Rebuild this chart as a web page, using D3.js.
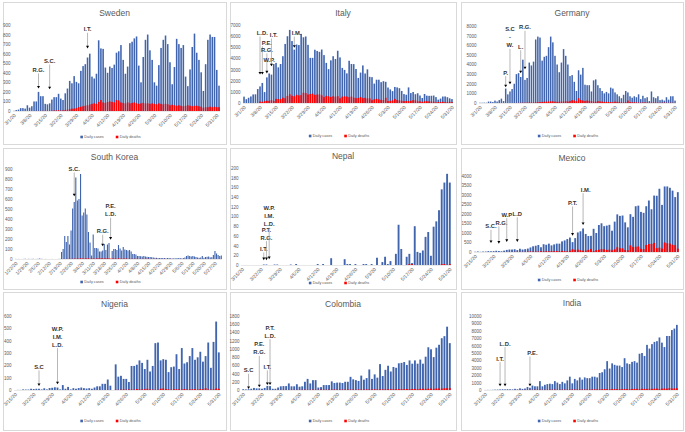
<!DOCTYPE html>
<html>
<head>
<meta charset="utf-8">
<script src="https://cdn.jsdelivr.net/npm/d3@7"></script>
<style>
body { margin: 0; background: #fff; }
text { font-family: "Liberation Sans", Arial, sans-serif; }
</style>
</head>
<body>
<script>
// ---- tick labels ----
const ticksMar1 = ['3/1/20','3/8/20','3/15/20','3/22/20','3/29/20','4/5/20','4/12/20','4/19/20','4/26/20','5/3/20','5/10/20','5/17/20','5/24/20','5/31/20'];
const ticksKorea = ['1/22/20','1/29/20','2/5/20','2/12/20','2/19/20','2/26/20','3/4/20','3/11/20','3/18/20','3/25/20','4/1/20','4/8/20','4/15/20','4/22/20','4/29/20','5/6/20','5/13/20','5/20/20','5/27/20'];
const ticksMar15 = ['3/15/20','3/22/20','3/29/20','4/5/20','4/12/20','4/19/20','4/26/20','5/3/20','5/10/20','5/17/20','5/24/20','5/31/20'];

const y900 = [0,100,200,300,400,500,600,700,800,900];
const y7000 = [0,1000,2000,3000,4000,5000,6000,7000];
const y8000 = [0,1000,2000,3000,4000,5000,6000,7000,8000];
const y200 = [0,20,40,60,80,100,120,140,160,180,200];
const y4000 = [0,500,1000,1500,2000,2500,3000,3500,4000];
const y600 = [0,100,200,300,400,500,600];
const y1800 = [0,200,400,600,800,1000,1200,1400,1600,1800];
const y10000 = [0,1000,2000,3000,4000,5000,6000,7000,8000,9000,10000];

// ---- series (daily) ----
const swedenCases = [2,10,15,30,30,25,60,35,50,100, 100,200,155,155,75,70,80,120,145,145,
  180,130,115,185,235,315,290,365,305,290,420, 470,490,560,600,360,340,390,740,655,650,
  455,400,465,450,485,610,625,690,535,390, 465,710,725,760,780,475,300,565,745,800,
  635,535,300,265,480,660,745,790,700,510, 280,460,755,700,660,690,360,260,435,670,
  810,610,535,405,210,490,745,800,775,775,430, 265];
const swedenDeaths = [0,0,0,0,0,0,0,0,0,0, 1,1,0,2,2,3,1,3,5,5,
  8,3,6,10,15,20,25,25,30,40,45, 50,55,60,70,75,80,75,95,115,90,
  85,95,100,95,90,115,110,90,85,80, 90,80,85,90,80,75,80,85,80,80,
  75,80,75,70,80,75,70,75,70,60, 65,60,55,60,55,50,55,60,55,50,
  55,55,50,45,35,40,40,45,40,45,40, 40];

const italyCases = [570,340,470,590,770,780,1250,1490,1800,980, 2300,2650,2550,3500,3600,3200,3500,4200,5300,5990,
  6560,5560,4790,5250,5200,6200,5900,5970,5220,4050,4050, 4780,4670,4590,4800,4300,3600,3040,3830,4200,3950,
  4690,4090,3150,2970,2660,3790,3500,3490,3050,2250, 2730,3370,2650,3020,2350,2320,1740,2090,2090,1870,
  1960,1900,1390,1220,1070,1440,1400,1330,1080,800, 740,1400,890,990,790,875,675,450,810,660,
  640,650,670,530,300,400,580,590,520,420,350];
const italyDeaths = [0,0,0,0,0,0,0,130,100,170, 200,190,250,175,370,350,345,475,430,630,
  790,650,600,740,680,710,920,890,760,810,840, 730,760,770,680,525,640,600,540,610,570,
  620,430,570,600,580,525,575,480,435,455, 535,440,465,420,415,260,335,380,325,285,
  270,475,175,195,235,370,275,245,195,165, 180,170,195,260,240,155,145,100,160,160,
  155,130,120,50,90,80,115,70,85,110,75];

const germanyCases = [30,30,40,30,150,150,100,250,150,300,450,200,1500, 900,1200,1450,2000,3000,3100,2700,4500,
  2400,2600,4200,3900,4300,6600,6900,6800,4400,4800,4900,5800,6900,6300,4900,4000,3200,4200,5600,4900,
  4000,2800,2900,2200,1250,3400,2950,3650,1900,1850,1850,1200,2350,2450,1850,1550,1250,1000,1150,1000,
  1600,1500,1100,900,700,500,850,1250,1100,700,550,700,600,900,400,750,500,600,200,1200,
  600,500,700,300,350,250,600,350,700,700,250];
const germanyDeaths = [0,0,0,0,0,0,0,0,0,0,0,0,0,0,0,0, 5,10,15,20,30, 25,35,50,50,60,85,90,100,
  110,130,140,150,170,170,140,120,130,150,160,180,
  150,200,300,250,180,500,300,260,200,250,230,180,150,130,200,160,140,110,120,100,
  90,80,150,120,110,70,60,80,250,100,60,80,50,40,30,50,60,40,30,40,50,30,25,20,30,40,20,15,30,20,10];

const koreaCases = [1,0,1,0,0,1,3,0,2,1,1,3,0,1,2,5,3,1,0,1,0,0,0,1,0,0,0,1,2,
  70,100,230,170,230,145,285,505,570,815,585,600,850,435,465,505,445,270,165,35,245,110,110,105,75,75,85,150,90,145,160,
  0,
  80,100,100,90,140,105,85,120,95,90,85,90,75,50,50,45,30,
  30,28,25,30,25,22,20,20,18,15,12,12,10,10,10,10,10,8,10,10,8,5,8,5,10,8,10,5,
  10,15,30,35,30,25,30,25,20,15,12,15,30,12,20,22,25,16,18,40,80,55,40,30,35];
const koreaDeaths = [0,0,0,0,0,0,0,0,0,0, 0,0,0,0,0,0,0,0,0,0, 0,0,0,0,0,0,0,0,0,0,
  1,0,1,2,1,3,2,4,3,6, 5,6,6,3,6,7,6,3,6,5, 3,5,8,2,9,6,5,8,5,8, 4,5,6,5,3,6,4,3,4,5,
  4,2,3,3,2,2,3,2,2,1, 2,1,1,3,2,1,1,0,1,2, 0,1,1,0,2,0,1,0,1,1, 0,1,0,0,1,1,0,1,0,0,
  0,1,0,0,1,0,0,1,0,0, 1,0,1,0,0,0,1,0,0,1, 0];

const nepalCases = [0,0,0,0,0,0,0,0,1,1, 0,0,1,1,0,0,0,0,1,0, 2,0,0,0,0,0,0,0,2,0,
  2,0,0,14,0,0,0,0,12,2, 2,0,2,0,0,2,2,0,2,0, 15,0,6,17,2,8,0,23,83,33,
  0,17,23,4,80,27,25,30,58,68, 19,79,90,113,156,170,188,170];
const nepalDeaths = [0,0,0,0,0,0,0,0,0,0, 0,0,0,0,0,0,0,0,0,0, 0,0,0,0,0,0,0,0,0,0,
  0,0,0,0,0,0,0,0,0,0, 0,0,0,0,0,0,0,0,0,0, 0,0,0,0,0,0,0,0,0,0,
  0,0,2,2,0,0,0,0,0,0, 0,0,0,0,2,2,0,2];

const mexicoCases = [15,29,11,25,25,46,39,48,65,51, 38,70,110,130,130,145,100,
  170,130,150,180,240,300,330,370,250,410, 380,440,350,400,440,440,560,610,680,760,
  520,730,1030,1090,1240,950,840,850,1220,1000, 1420,1510,1360,1390,1430,1120,1600,1980,1900,1920,
  1560,1300,1990,1850,2410,2440,2110,2060,2410,2710, 2250,2970,2960,3330,2480,3450,3450,3380,3230,2890,3150];
const mexicoDeaths = [0,0,0,0,1,0,1,0,2,1,1,3,4,4,4,8,8,
  8,8,10,20,25,20,30,20,40,35, 40,30,50,40,50,40,60,35,40,70,
  145,110,130,90,70,80,115,160,50,100, 120,150,140,110,125,90,140,250,200,190,
  110,90,350,260,280,290,170,150,370,420, 430,480,200,230,180,500,460,440,380,360,180];

const nigeriaCases = [0,1,1,5,4,4,10,8,10,10,5,14,5,16,18,22,20,5,40,10,25,5,15,10,16,20,15,12,15,10,20,30,30,50,50,
  85,35,0,
  208,108,115,90,90,65,195,195,205,240,220,170,245,150,195,380,385,240,250,245,
  145,185,190,290,170,340,215,225,275,340,245,265,310,230,275,385,180,390,555,305];
const nigeriaDeaths = [0,0,0,0,0,0,0,0,0,0, 0,0,0,0,0,0,0,0,0,0, 1,0,0,0,0,1,0,0,0,0, 1,0,1,0,0,1,0,0,
  2,1,3,5,2,4,3,2,8,5, 4,6,10,4,3,2,2,10,12,8, 5,3,7,5,6,4,8,3,6,5, 7,4,8,5,14,4,3,6,12,10];

const colombiaCases = [20,15,20,30,50,40,40,30,50,100, 95,30,30,60,90,95,95,160,90,90,
  140,80,90,200,270,160,240,240,60,70, 120,120,120,210,170,180,180,170,200,200,
  320,260,240,220,350,250,290,500,270,380, 300,630,340,490,590,450,560,540,650,660,
  680,610,720,640,720,640,740,640,810,1040, 990,800,1030,1100,1260,1310,1540,1140];
const colombiaDeaths = [0,0,0,0,0,0,0,1,0,1,1,1,2,2,3,3,2,2,4,3,
  3,5,4,7,4,6,8,5,6,9, 7,6,8,9,10,7,9,8,10,12, 9,11,8,12,10,11,13,14,12,15,
  14,16,13,17,18,16,20,18,21,22, 19,24,22,25,26,23,28,30,27,32, 34,30,36,38,35,42,45,48];

const indiaCases = [10,20,15,30,50,60,80,100,90,110,100,80,160,100,230,150,200,400,300,600,
  500,500,1200,500,700,800,850,800,1200,1000, 800,1100,900,1300,1800,900,1500,1300,1700,1400,
  1700,1600,1600,1800,1800,1700,2300,2400,2800,3900, 2900,3600,3400,3300,3300,3100,4300,3600,3500,3800,
  3900,3700,4900,5000,4600,6100,5600,6200,6500,6600, 7100,6400,5800,7300,7300,8100,8300,8800];
const indiaDeaths = [0,0,0,0,0,1,1,2,3,4,5,5,7,8,10,12,15,20,25,20,
  30,35,40,25,30,35,45,40,50,30, 40,45,35,45,50,60,55,60,70,50, 60,70,75,70,80,90,100,95,130,120,
  110,120,110,130,140,100,120,135,130,140, 150,155,140,160,150,145,170,150,180,190,
  150,190,200,180,270,190,220,230];

// ---- policy annotations (date of arrow, optional date of text, labels, text value, arrow tip value) ----
const swedenNotes = [
  {date:'3/12/20', labels:['R.G.'], top:430, tip:235},
  {date:'3/17/20', labels:['S.C.'], top:523, tip:227},
  {date:'4/3/20', labels:['I.T.'], top:855, tip:655}];
const italyNotes = [
  {date:'3/8/20', text:'3/9/20', labels:['L.D.'], top:6280, tip:2550},
  {date:'3/9/20', text:'3/11/20', labels:['P.E.'], top:5410, tip:2550},
  {date:'3/11/20', text:'3/11/20', labels:['R.G.'], top:4760, tip:2650},
  {date:'3/13/20', text:'3/12/20', labels:['W.P.'], top:3860, tip:null},
  {date:'3/13/20', text:'3/14/20', labels:['I.T.'], top:6100, tip:3300},
  {date:'3/23/20', text:'3/24/20', labels:['I.M.'], top:6280, tip:4960}];
const germanyNotes = [
  {date:'3/13/20', labels:['P.'], top:3150, tip:1630},
  {date:'3/15/20', labels:['S.C','-','W.'], top:7650, tip:1940},
  {date:'3/20/20', labels:['L.'], top:5850, tip:3090},
  {date:'3/22/20', labels:['R.G.'], top:7860, tip:3500}];
const koreaNotes = [
  {date:'2/28/20', labels:['S.C.'], top:900, tip:627},
  {date:'3/17/20', labels:['R.G.'], top:277, tip:127},
  {date:'3/22/20', labels:['P.E.','L.D.'], top:527, tip:193}];
const nepalNotes = [
  {date:'3/23/20', labels:['I.T.'], top:33, tip:10},
  {date:'3/24/20', labels:['P.T.','R.G.'], top:73, tip:10},
  {date:'3/25/20', labels:['W.P.','I.M.','L.D.'], top:117, tip:12}];
const mexicoNotes = [
  {date:'3/21/20', labels:['S.C.'], top:1350, tip:470},
  {date:'3/24/20', text:'3/25/20', labels:['R.G.'], top:1530, tip:440},
  {date:'3/27/20', labels:['W.P'], top:1960, tip:530},
  {date:'3/31/20', labels:['L.D'], top:2010, tip:530},
  {date:'4/21/20', labels:['P.T.'], top:2580, tip:860},
  {date:'4/25/20', text:'4/26/20', labels:['I.M.'], top:3280, tip:1420}];
const nigeriaNotes = [
  {date:'3/24/20', labels:['S.C'], top:187, tip:32},
  {date:'3/31/20', labels:['W.P.','I.M.','L.D.'], top:497, tip:46}];
const colombiaNotes = [
  {date:'3/17/20', labels:['S.C'], top:479, tip:24},
  {date:'3/21/20', labels:['P.E.','R.G.'], top:1111, tip:65},
  {date:'3/24/20', labels:['I.T.'], top:560, tip:122},
  {date:'3/25/20', labels:['P.T.','L.D.'], top:1516, tip:122}];
const indiaNotes = [
  {date:'3/21/20', labels:['I.T.'], top:4230, tip:500},
  {date:'3/23/20', labels:['L.D.'], top:6260, tip:500},
  {date:'4/2/20', text:'4/3/20', labels:['P.E.'], top:5000, tip:500}];

const panels = [
  {name:'Sweden', start:[3,1], cases:swedenCases, deaths:swedenDeaths, yTicks:y900, xTicks:ticksMar1, notes:swedenNotes},
  {name:'Italy', start:[3,1], cases:italyCases, deaths:italyDeaths, yTicks:y7000, xTicks:ticksMar1, notes:italyNotes},
  {name:'Germany', start:[3,1], cases:germanyCases, deaths:germanyDeaths, yTicks:y8000, xTicks:ticksMar1, notes:germanyNotes},
  {name:'South Korea', start:[1,22], cases:koreaCases, deaths:koreaDeaths, yTicks:y900, xTicks:ticksKorea, notes:koreaNotes},
  {name:'Nepal', start:[3,15], cases:nepalCases, deaths:nepalDeaths, yTicks:y200, xTicks:ticksMar15, notes:nepalNotes},
  {name:'Mexico', start:[3,15], cases:mexicoCases, deaths:mexicoDeaths, yTicks:y4000, xTicks:ticksMar15, notes:mexicoNotes},
  {name:'Nigeria', start:[3,15], cases:nigeriaCases, deaths:nigeriaDeaths, yTicks:y600, xTicks:ticksMar15, notes:nigeriaNotes},
  {name:'Colombia', start:[3,15], cases:colombiaCases, deaths:colombiaDeaths, yTicks:y1800, xTicks:ticksMar15, notes:colombiaNotes},
  {name:'India', start:[3,15], cases:indiaCases, deaths:indiaDeaths, yTicks:y10000, xTicks:ticksMar15, notes:indiaNotes}
];

// ---- layout ----
const cols = [[3,226],[230,456],[461,683]];
const rows = [[2,144],[148,289],[292,430]];
const boxes = [
  {l:13, r:220, t:25, b:111, title:16, legend:137},
  {l:243, r:453, t:25, b:103, title:16, legend:136},
  {l:479, r:676, t:26, b:103, title:16, legend:136},
  {l:15, r:222, t:169, b:259, title:160, legend:282},
  {l:241, r:451, t:168, b:265, title:159, legend:283},
  {l:474, r:679, t:176, b:252, title:161, legend:280},
  {l:14, r:220, t:316, b:390, title:307, legend:421},
  {l:242, r:451, t:316, b:390, title:307, legend:421},
  {l:484, r:678, t:316, b:390, title:306, legend:421}
];
const blue = '#4065AE', red = '#FF0000', grey = '#595959';

const svg = d3.select('body').append('svg')
  .attr('width', 685)
  .attr('height', 432);

const label = d => `${d.getMonth() + 1}/${d.getDate()}/20`;

panels.forEach((p, i) => {
  const [x0, x1] = cols[i % 3];
  const [y0, y1] = rows[Math.floor(i / 3)];
  const b = boxes[i];
  const g = svg.append('g');

  g.append('rect')
    .attr('x', x0 + 0.5).attr('y', y0 + 0.5)
    .attr('width', x1 - x0).attr('height', y1 - y0)
    .attr('fill', '#fff').attr('stroke', '#d9d9d9');

  g.append('text')
    .attr('x', (x0 + x1) / 2).attr('y', b.title)
    .attr('text-anchor', 'middle')
    .attr('font-size', 8.5)
    .attr('fill', grey)
    .text(p.name);

  const first = new Date(2020, p.start[0] - 1, p.start[1]);
  const days = p.cases.map((d, k) => label(d3.timeDay.offset(first, k)));

  const x = d3.scaleBand().domain(days).range([b.l, b.r]).paddingInner(0.3).paddingOuter(0.1);
  const y = d3.scaleLinear().domain([0, d3.max(p.yTicks)]).range([b.b, b.t]);
  const cx = d => x(d) + x.bandwidth() / 2;

  // y axis
  g.append('g')
    .attr('transform', `translate(${b.l},0)`)
    .call(d3.axisLeft(y).tickValues(p.yTicks).tickFormat(d3.format('d')).tickSize(0).tickPadding(2.5))
    .call(s => {
      s.select('.domain').remove();
      s.attr('font-family', '"Liberation Sans", Arial, sans-serif').attr('font-size', 4.5);
      s.selectAll('text').attr('fill', grey);
    });

  // x axis
  g.append('g')
    .attr('transform', `translate(0,${b.b})`)
    .call(d3.axisBottom(x).tickValues(p.xTicks).tickSize(0))
    .call(s => {
      s.select('.domain').remove();
      s.attr('font-family', '"Liberation Sans", Arial, sans-serif').attr('font-size', 4.9);
      s.selectAll('text')
        .attr('fill', grey)
        .attr('y', 0).attr('dy', '0.35em')
        .attr('text-anchor', 'end')
        .attr('transform', 'translate(1,3.5) rotate(-45)');
    });

  // bars
  g.append('g').selectAll('rect').data(p.cases).join('rect')
    .attr('x', (d, k) => x(days[k]))
    .attr('width', x.bandwidth())
    .attr('y', d => y(d))
    .attr('height', d => y(0) - y(d))
    .attr('fill', blue);

  g.append('g').selectAll('rect').data(p.deaths).join('rect')
    .attr('x', (d, k) => x(days[k]))
    .attr('width', x.bandwidth())
    .attr('y', d => y(d))
    .attr('height', d => y(0) - y(d))
    .attr('fill', red);

  g.append('line')
    .attr('x1', b.l).attr('x2', b.r)
    .attr('y1', y(0) + 0.5).attr('y2', y(0) + 0.5)
    .attr('stroke', '#d9d9d9').attr('stroke-width', 0.6);

  // annotations
  p.notes.forEach(n => {
    const lx = cx(n.date);
    const tx = cx(n.text || n.date);
    const ty = y(n.top);
    n.labels.forEach((t, j) => {
      g.append('text')
        .attr('x', tx).attr('y', ty + j * 8)
        .attr('dy', '0.35em')
        .attr('text-anchor', 'middle')
        .attr('font-family', '"Liberation Sans Narrow", "Liberation Sans", sans-serif')
        .attr('font-weight', 'bold')
        .attr('font-size', 5.8)
        .attr('fill', '#333')
        .text(t);
    });
    if (n.tip != null) {
      const yb = ty + (n.labels.length - 1) * 8 + 3.5;
      const yt = y(n.tip);
      g.append('line')
        .attr('x1', lx).attr('x2', lx)
        .attr('y1', yb).attr('y2', yt - 2)
        .attr('stroke', '#a6a6a6').attr('stroke-width', 0.8);
      g.append('path')
        .attr('d', `M${lx - 1.5},${yt - 2.6}L${lx + 1.5},${yt - 2.6}L${lx},${yt}Z`)
        .attr('fill', '#000');
    }
  });

  // legend
  const lg = g.append('g');
  let off = 0;
  [['Daily cases', blue], ['Daily deaths', red]].forEach(([t, c]) => {
    lg.append('rect').attr('x', off).attr('y', -1.3).attr('width', 2.6).attr('height', 2.6).attr('fill', c);
    const tt = lg.append('text')
      .attr('x', off + 4).attr('y', 0).attr('dy', '0.35em')
      .attr('font-size', 3.8).attr('fill', grey)
      .text(t);
    off += 4 + tt.node().getComputedTextLength() + 12;
  });
  const w = off - 12;
  lg.attr('transform', `translate(${(x0 + x1) / 2 - w / 2 - 4},${b.legend})`);
});
</script>
</body>
</html>
